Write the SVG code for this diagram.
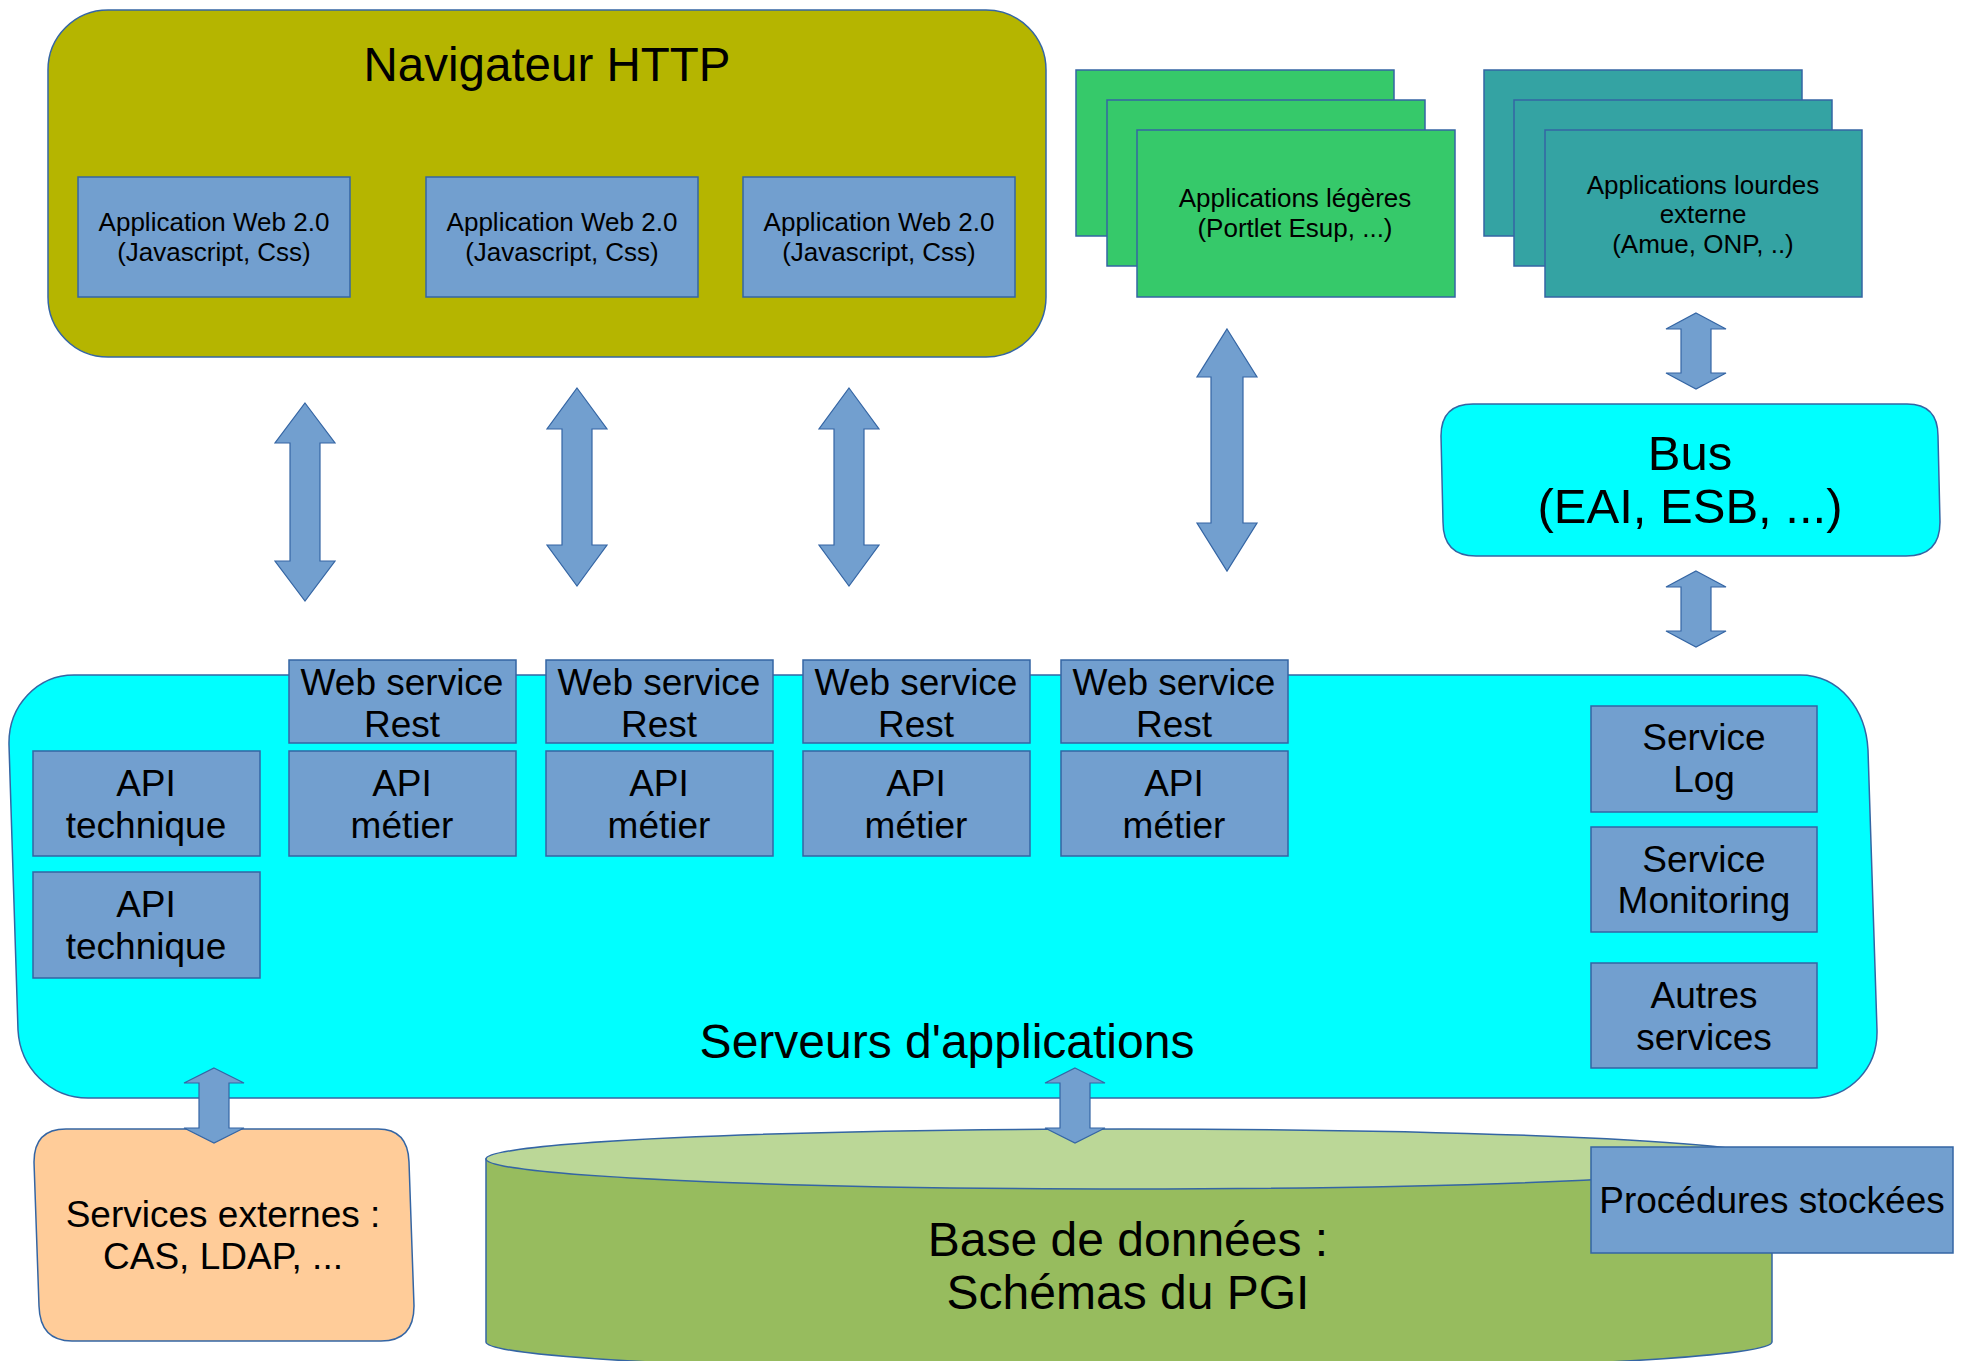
<svg xmlns="http://www.w3.org/2000/svg" width="1965" height="1361" viewBox="0 0 1965 1361">
<style>
text{font-family:"Liberation Sans",Arial,sans-serif;fill:#000;text-anchor:middle}
.s{stroke:#3465a4;stroke-width:1.5}
.blue{fill:#729fcf}
.arr{fill:#729fcf;stroke:#3465a4;stroke-width:1.2}
.t26{font-size:26px}
.t37{font-size:37px}
.t48{font-size:48px}
</style>
<rect width="1965" height="1361" fill="#fff"/>

<g id="navigateur">
<rect class="s" x="48" y="10" width="998" height="347" rx="60" ry="60" fill="#b5b500"/>
<text x="547" y="81" style="font-size:47.5px">Navigateur HTTP</text>
</g>
<g id="app-web-1">
<rect class="s blue" x="78" y="177" width="272" height="120"/>
<text class="t26" x="214" y="231">Application Web 2.0</text>
<text class="t26" x="214" y="261">(Javascript, Css)</text>
</g>
<g id="app-web-2">
<rect class="s blue" x="426" y="177" width="272" height="120"/>
<text class="t26" x="562" y="231">Application Web 2.0</text>
<text class="t26" x="562" y="261">(Javascript, Css)</text>
</g>
<g id="app-web-3">
<rect class="s blue" x="743" y="177" width="272" height="120"/>
<text class="t26" x="879" y="231">Application Web 2.0</text>
<text class="t26" x="879" y="261">(Javascript, Css)</text>
</g>

<g id="apps-legeres">
<rect class="s" x="1076" y="70" width="318" height="166" fill="#36c96a"/>
<rect class="s" x="1107" y="100" width="318" height="166" fill="#36c96a"/>
<rect class="s" x="1137" y="130" width="318" height="167" fill="#36c96a"/>
<text class="t26" x="1295" y="207">Applications légères</text>
<text class="t26" x="1295" y="237">(Portlet Esup, ...)</text>
</g>

<g id="apps-lourdes">
<rect class="s" x="1484" y="70" width="318" height="166" fill="#34a3a3"/>
<rect class="s" x="1514" y="100" width="318" height="166" fill="#34a3a3"/>
<rect class="s" x="1545" y="130" width="317" height="167" fill="#34a3a3"/>
<text class="t26" x="1703" y="194">Applications lourdes</text>
<text class="t26" x="1703" y="223">externe</text>
<text class="t26" x="1703" y="253">(Amue, ONP, ..)</text>
</g>

<g id="bus">
<path class="s" fill="#00ffff" d="M1473,404 L1907,404 Q1938,404 1938,436 L1940,522 Q1940,556 1906,556 L1476,556 Q1443,556 1443,522 L1441,436 Q1441,404 1473,404 Z"/>
<text x="1690" y="470" style="font-size:49px">Bus</text>
<text x="1690" y="523" style="font-size:49px">(EAI, ESB, ...)</text>
</g>

<g id="serveurs">
<path class="s" fill="#00ffff" d="M74,675 L1800,675 C1840,675 1866,710 1868,750 L1877,1030 C1878,1068 1850,1098 1812,1098 L88,1098 C50,1098 20,1068 18,1030 L9,745 C8,705 38,675 74,675 Z"/>
<text class="t48" x="947" y="1058">Serveurs d'applications</text>
</g>

<g id="ws-1">
<rect class="s blue" x="289" y="660" width="227" height="83"/>
<text class="t37" x="402" y="695">Web service</text>
<text class="t37" x="402" y="737">Rest</text>
</g>
<g id="ws-2">
<rect class="s blue" x="546" y="660" width="227" height="83"/>
<text class="t37" x="659" y="695">Web service</text>
<text class="t37" x="659" y="737">Rest</text>
</g>
<g id="ws-3">
<rect class="s blue" x="803" y="660" width="227" height="83"/>
<text class="t37" x="916" y="695">Web service</text>
<text class="t37" x="916" y="737">Rest</text>
</g>
<g id="ws-4">
<rect class="s blue" x="1061" y="660" width="227" height="83"/>
<text class="t37" x="1174" y="695">Web service</text>
<text class="t37" x="1174" y="737">Rest</text>
</g>

<g id="api-technique-1">
<rect class="s blue" x="33" y="751" width="227" height="105"/>
<text class="t37" x="146" y="796">API</text>
<text class="t37" x="146" y="838">technique</text>
</g>
<g id="api-technique-2">
<rect class="s blue" x="33" y="872" width="227" height="106"/>
<text class="t37" x="146" y="917">API</text>
<text class="t37" x="146" y="959">technique</text>
</g>
<g id="api-metier-1">
<rect class="s blue" x="289" y="751" width="227" height="105"/>
<text class="t37" x="402" y="796">API</text>
<text class="t37" x="402" y="838">métier</text>
</g>
<g id="api-metier-2">
<rect class="s blue" x="546" y="751" width="227" height="105"/>
<text class="t37" x="659" y="796">API</text>
<text class="t37" x="659" y="838">métier</text>
</g>
<g id="api-metier-3">
<rect class="s blue" x="803" y="751" width="227" height="105"/>
<text class="t37" x="916" y="796">API</text>
<text class="t37" x="916" y="838">métier</text>
</g>
<g id="api-metier-4">
<rect class="s blue" x="1061" y="751" width="227" height="105"/>
<text class="t37" x="1174" y="796">API</text>
<text class="t37" x="1174" y="838">métier</text>
</g>

<g id="service-log">
<rect class="s blue" x="1591" y="706" width="226" height="106"/>
<text class="t37" x="1704" y="750">Service</text>
<text class="t37" x="1704" y="792">Log</text>
</g>
<g id="service-monitoring">
<rect class="s blue" x="1591" y="827" width="226" height="105"/>
<text class="t37" x="1704" y="872">Service</text>
<text class="t37" x="1704" y="913">Monitoring</text>
</g>
<g id="autres-services">
<rect class="s blue" x="1591" y="963" width="226" height="105"/>
<text class="t37" x="1704" y="1008">Autres</text>
<text class="t37" x="1704" y="1050">services</text>
</g>

<g id="services-externes">
<path class="s" fill="#ffcc99" d="M66,1129 L378,1129 Q408,1129 409,1162 L414,1306 Q414,1341 381,1341 L72,1341 Q40,1341 39,1306 L34,1162 Q34,1129 66,1129 Z"/>
<text class="t37" x="223" y="1227">Services externes :</text>
<text class="t37" x="223" y="1269">CAS, LDAP, ...</text>
</g>

<g id="base-de-donnees">
<path class="s" fill="#97bc5e" d="M486,1159 L486,1342 A643,30 0 0 0 1772,1342 L1772,1159 Z"/>
<ellipse class="s" cx="1129" cy="1159" rx="643" ry="30" fill="#bbd797"/>
<text class="t48" x="1128" y="1256">Base de données :</text>
<text class="t48" x="1128" y="1309">Schémas du PGI</text>
</g>

<g id="procedures-stockees">
<rect class="s blue" x="1591" y="1147" width="362" height="106"/>
<text class="t37" x="1772" y="1213">Procédures stockées</text>
</g>

<g id="connectors">
<polygon class="arr" points="305,403 335,443 320,443 320,561 335,561 305,601 275,561 290,561 290,443 275,443"/>
<polygon class="arr" points="577,388 607,429 592,429 592,545 607,545 577,586 547,545 562,545 562,429 547,429"/>
<polygon class="arr" points="849,388 879,429 864,429 864,545 879,545 849,586 819,545 834,545 834,429 819,429"/>
<polygon class="arr" points="1227,329 1257,377 1243,377 1243,523 1257,523 1227,571 1197,523 1211,523 1211,377 1197,377"/>
<polygon class="arr" points="1696,313 1726,329 1711,329 1711,373 1726,373 1696,389 1666,373 1681,373 1681,329 1666,329"/>
<polygon class="arr" points="1696,571 1726,587 1711,587 1711,631 1726,631 1696,647 1666,631 1681,631 1681,587 1666,587"/>
<polygon class="arr" points="214,1068 244,1083 229,1083 229,1128 244,1128 214,1143 184,1128 199,1128 199,1083 184,1083"/>
<polygon class="arr" points="1075,1068 1105,1083 1090,1083 1090,1128 1105,1128 1075,1143 1045,1128 1060,1128 1060,1083 1045,1083"/>
</g>
</svg>
